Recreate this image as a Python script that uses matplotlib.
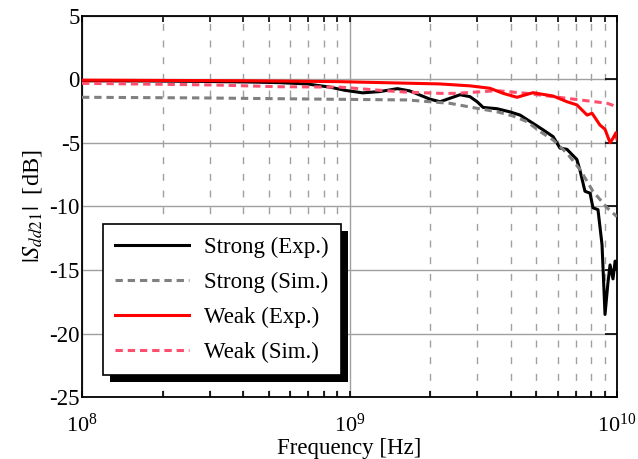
import numpy as np
import matplotlib
matplotlib.use("Agg")
import matplotlib.pyplot as plt
from matplotlib.patches import Rectangle
from matplotlib.ticker import LogLocator, NullFormatter

plt.rcParams['font.family'] = ['Liberation Serif', 'DejaVu Serif']
plt.rcParams['mathtext.fontset'] = 'stix'
plt.rcParams['axes.unicode_minus'] = False

# Strong (Exp.)
f_strong_exp = [0.1, 0.179, 0.276, 0.425, 0.55, 0.693, 0.845, 0.96, 1.12, 1.30, 1.51, 1.68,
                2.0, 2.18, 2.59, 2.82, 3.0, 3.16, 3.56, 3.98, 4.34, 4.85, 5.28, 5.77, 6.12,
                6.50, 7.08, 7.28, 7.59, 7.93, 8.13, 8.49, 8.79, 9.02, 9.25, 9.42, 9.66, 9.84, 10.0]
s_strong_exp = [-0.1, -0.12, -0.15, -0.2, -0.25, -0.35, -0.6, -0.85, -1.05, -0.95, -0.72, -0.9,
                -1.55, -1.75, -1.2, -1.35, -1.75, -2.2, -2.3, -2.55, -2.8, -3.45, -3.95, -4.5, -5.4,
                -5.5, -6.3, -7.2, -8.8, -8.95, -10.1, -10.25, -13.0, -18.5, -16.0, -14.6, -15.7, -14.3, -14.8]

# Strong (Sim.)
f_strong_sim = [0.1, 0.276, 0.92, 1.64, 2.0, 2.38, 3.0, 3.56, 4.08, 4.61, 5.16, 5.77, 6.50,
                7.28, 8.13, 9.18, 10.0]
s_strong_sim = [-1.40, -1.45, -1.56, -1.61, -1.75, -1.88, -2.27, -2.54, -2.87, -3.32, -4.1, -4.76,
                -5.8, -7.1, -8.8, -10.1, -10.8]

# Weak (Exp.)
f_weak_exp = [0.1, 0.425, 0.92, 2.18, 2.82, 3.35, 3.75, 4.23, 4.85, 5.77, 6.50, 7.08, 7.73,
              8.07, 8.63, 9.02, 9.42, 9.66, 9.91, 10.0]
s_weak_exp = [-0.05, -0.1, -0.17, -0.35, -0.5, -0.69, -1.09, -1.40, -1.04, -1.30, -1.75, -2.0,
              -2.8, -2.66, -3.58, -3.92, -4.98, -4.63, -4.19, -4.69]

# Weak (Sim.)
f_weak_sim = [0.1, 0.309, 0.55, 0.92, 1.30, 1.64, 2.18, 2.52, 3.56, 4.61, 5.77, 7.28, 9.18, 10.0]
s_weak_sim = [-0.3, -0.43, -0.57, -0.6, -0.85, -1.0, -1.09, -1.09, -0.88, -1.09, -1.35, -1.61,
              -1.87, -2.14]

fig = plt.figure(figsize=(6.38, 4.59), dpi=100)
ax = fig.add_axes([82/638, 1 - 397/459, 535/638, 381/459])

lw = 2.2
ax.plot(np.array(f_strong_exp)*1e9, s_strong_exp, color='black', lw=lw, label='Strong (Exp.)', zorder=3)
ax.plot(np.array(f_strong_sim)*1e9, s_strong_sim, color='#808080', lw=lw, ls=(0, (2.4, 1.6)),
        label='Strong (Sim.)', zorder=3)
ax.plot(np.array(f_weak_exp)*1e9, s_weak_exp, color='#ff0000', lw=lw, label='Weak (Exp.)', zorder=4)
ax.plot(np.array(f_weak_sim)*1e9, s_weak_sim, color='#ff4f6e', lw=lw, ls=(0, (2.4, 1.6)),
        label='Weak (Sim.)', zorder=3)

ax.set_xscale('log')
ax.set_xlim(1e8, 1e10)
ax.set_ylim(-25, 5)
ax.set_yticks([-25, -20, -15, -10, -5, 0, 5])
ax.xaxis.set_minor_locator(LogLocator(base=10, subs=np.arange(2, 10)))
ax.xaxis.set_minor_formatter(NullFormatter())

ax.set_axisbelow(True)
ax.grid(True, which='major', axis='y', color='#a0a0a0', lw=1.0, ls='-')
ax.grid(True, which='major', axis='x', color='#a0a0a0', lw=1.0, ls='-')
ax.grid(True, which='minor', axis='x', color='#a0a0a0', lw=1.0, ls=(0, (5, 7)))

ax.tick_params(axis='y', which='major', direction='in', left=False, right=True, length=8.5,
               labelsize=16.5, width=1.2, pad=1.5)
ax.tick_params(axis='x', which='both', direction='in', top=True, bottom=True, length=4,
               width=1.2, labelsize=16, pad=12)
for s in ax.spines.values():
    s.set_linewidth(1.3)
    s.set_color('black')

ax.set_xlabel('Frequency [Hz]', fontsize=16.5, labelpad=1)
ax.set_ylabel(r'$|S_{dd21}|$  [dB]', fontsize=17.5, labelpad=4)

leg = ax.legend(loc='upper left', bbox_to_anchor=(0.039, 0.454), borderaxespad=0,
                fontsize=16.5, fancybox=False, framealpha=1, edgecolor='black',
                handlelength=3.2, handletextpad=0.65, labelspacing=0.6, borderpad=0.55)
leg.get_frame().set_linewidth(1.2)
leg.set_zorder(6)

fig.canvas.draw()
bb = leg.get_window_extent()
shadow = Rectangle((bb.x0 + 7, bb.y0 - 7), bb.width, bb.height, transform=None,
                   facecolor='black', edgecolor='none', zorder=5.5, clip_on=False)
ax.add_artist(shadow)

fig.savefig('out.png', dpi=100)
